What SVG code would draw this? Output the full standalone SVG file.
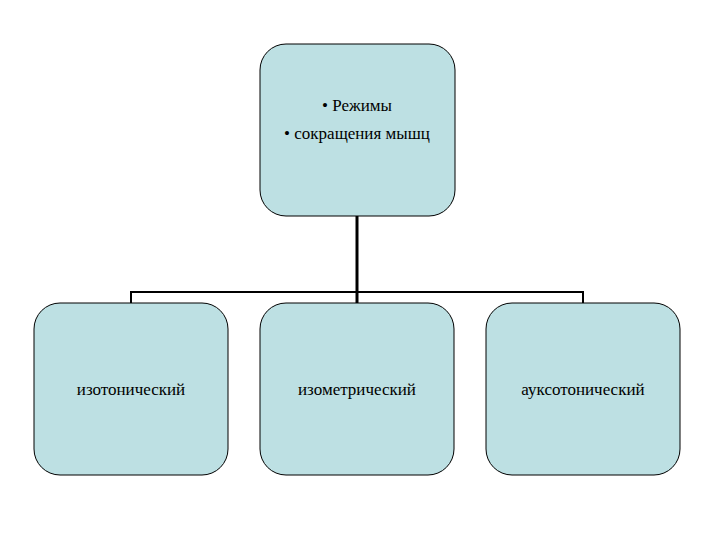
<svg xmlns="http://www.w3.org/2000/svg" width="720" height="540" viewBox="0 0 720 540">
<style>
.b{fill:#bde0e3;stroke:#000;stroke-width:1}
.t{font-family:"Liberation Serif",serif;font-size:17px;fill:#000;text-anchor:middle}
.c{stroke:#000;fill:none}
</style>
<rect width="720" height="540" fill="#fff"/>
<g id="connectors">
<line class="c" x1="357" y1="216" x2="357" y2="303" stroke-width="3"/>
<polyline class="c" points="131,303 131,292 583,292 583,303" stroke-width="2"/>
</g>
<g id="top"><rect class="b" x="260" y="44" width="195" height="172" rx="26"/>
<text class="t" x="357" y="111">• Режимы</text><text class="t" x="357" y="139">• сокращения мышц</text></g>
<g id="n1"><rect class="b" x="34" y="303" width="194" height="172" rx="26"/><text class="t" x="131" y="395">изотонический</text></g>
<g id="n2"><rect class="b" x="260" y="303" width="194" height="172" rx="26"/><text class="t" x="357" y="395">изометрический</text></g>
<g id="n3"><rect class="b" x="486" y="303" width="194" height="172" rx="26"/><text class="t" x="583" y="395">ауксотонический</text></g>
</svg>
